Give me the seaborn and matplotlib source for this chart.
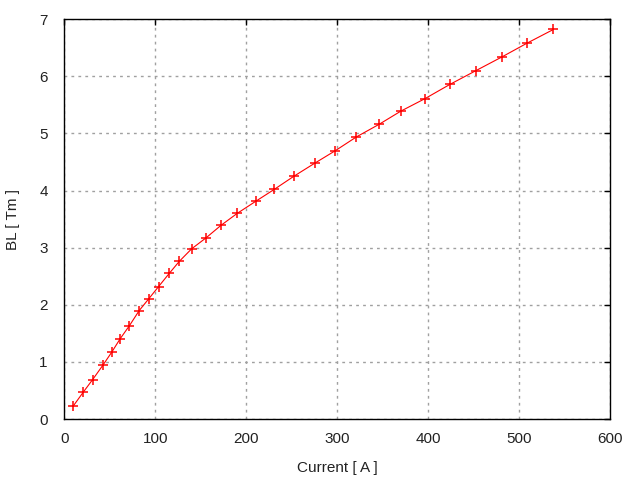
import numpy as np
import pandas as pd
import matplotlib
matplotlib.use("Agg")
import matplotlib.pyplot as plt
import seaborn as sns

# Datos: corriente [A] y BL [Tm]
corriente = [9.9, 20.8, 31.1, 42.3, 52.1, 61.6, 71.4, 82.4, 93.1, 103.7,
             115.4, 126.4, 140.0, 155.7, 172.2, 190.1, 210.3, 230.8, 252.4, 275.5,
             298.2, 321.3, 346.2, 370.0, 396.7, 424.2, 452.7, 481.3, 508.8, 537.8]
bl = [0.23, 0.47, 0.69, 0.94, 1.17, 1.41, 1.63, 1.90, 2.11, 2.32,
      2.55, 2.76, 2.98, 3.17, 3.39, 3.60, 3.81, 4.02, 4.25, 4.48,
      4.70, 4.94, 5.16, 5.39, 5.61, 5.86, 6.10, 6.34, 6.58, 6.82]

df = pd.DataFrame({"corriente": corriente, "bl": bl})

sns.set_style("white")
plt.rcParams['font.family'] = ['Liberation Sans', 'DejaVu Sans']
plt.rcParams['font.size'] = 11

fig = plt.figure(figsize=(6.4, 4.8), dpi=100)
ax = fig.add_axes([0.1005, 0.127, 0.8525, 0.833])

sns.lineplot(data=df, x="corriente", y="bl", color="red", lw=0.8,
             marker="+", markersize=7, markeredgewidth=1.1,
             markeredgecolor="red", ax=ax)

ax.set_xlim(0, 600)
ax.set_ylim(0, 7)
ax.set_xticks(np.arange(0, 601, 100))
ax.set_yticks(np.arange(0, 8, 1))
ax.grid(True, color="#a0a0a0", linestyle=(0, (2, 3)), lw=1)
for s in ax.spines.values():
    s.set_color("black")
    s.set_linewidth(1.0)
ax.tick_params(direction="in", top=True, right=True, length=4, width=1,
               colors="black", labelcolor="#222222", labelsize=11)
ax.tick_params(axis="y", pad=12)
ax.tick_params(axis="x", pad=9)
ax.set_xlabel("Current [ A ]", fontsize=11, color="#222222", labelpad=11)
ax.set_ylabel("BL [ Tm ]", fontsize=11, color="#222222", labelpad=14)

fig.savefig("out.png", dpi=100)
